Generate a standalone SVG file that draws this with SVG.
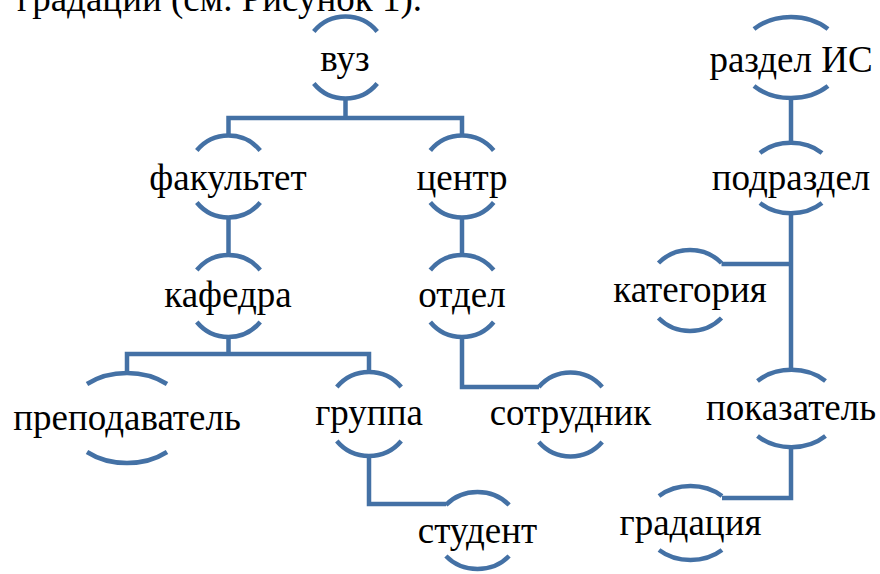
<svg xmlns="http://www.w3.org/2000/svg" width="880" height="574" viewBox="0 0 880 574">
<style>
.arc{fill:none;stroke:#4471a5;stroke-width:4.5}
.con{fill:none;stroke:#4471a5;stroke-width:4.5}
text{font-family:"Liberation Serif","Times New Roman","DejaVu Serif",serif;font-size:37px;fill:#000;text-anchor:middle}
.lead{text-anchor:start}
</style>
<rect width="880" height="574" fill="#fff"/>
<text class="lead" x="17" y="11">градации (см. Рисунок 1).</text>
<g id="connectors">
<path class="con" d="M345.5,98.5 V118 M228.5,135.5 V118 H462 V135.5"/>
<path class="con" d="M228.5,217.5 V255"/>
<path class="con" d="M462,217.5 V255"/>
<path class="con" d="M228.5,337 V354 M127,373 V354 H369 V372"/>
<path class="con" d="M369,456 V504 H446"/>
<path class="con" d="M462,337 V387 H539"/>
<path class="con" d="M791,98 V143"/>
<path class="con" d="M791,213 V370 M791,264 H721.5"/>
<path class="con" d="M791,446 V498 H722"/>
</g>
<g id="n-vuz"><path class="arc" d="M313.8,31.5 A41,41 0 0 1 377.2,31.5 M313.8,83.5 A41,41 0 0 0 377.2,83.5"/><text x="345" y="71">вуз</text></g>
<g id="n-razdel"><path class="arc" d="M754,29 A52,40.5 0 0 1 828,29 M754,86 A52,40.5 0 0 0 828,86"/><text x="791" y="72">раздел ИС</text></g>
<g id="n-fakultet"><path class="arc" d="M196.8,150.5 A41,41 0 0 1 260.2,150.5 M196.8,202.5 A41,41 0 0 0 260.2,202.5"/><text x="228" y="190">факультет</text></g>
<g id="n-centr"><path class="arc" d="M430.3,150.5 A41,41 0 0 1 493.7,150.5 M430.3,202.5 A41,41 0 0 0 493.7,202.5"/><text x="462" y="190">центр</text></g>
<g id="n-podrazdel"><path class="arc" d="M760,153 A44,35 0 0 1 822,153 M760,203 A44,35 0 0 0 822,203"/><text x="791" y="190">подраздел</text></g>
<g id="n-kafedra"><path class="arc" d="M196.8,270 A41,41 0 0 1 260.2,270 M196.8,322 A41,41 0 0 0 260.2,322"/><text x="228" y="307">кафедра</text></g>
<g id="n-otdel"><path class="arc" d="M430.3,270 A41,41 0 0 1 493.7,270 M430.3,322 A41,41 0 0 0 493.7,322"/><text x="462" y="307">отдел</text></g>
<g id="n-kategoriya"><path class="arc" d="M658.5,263 A43,40.5 0 0 1 721.5,263 M658.5,318 A43,40.5 0 0 0 721.5,318"/><text x="690" y="302">категория</text></g>
<g id="n-prepodavatel"><path class="arc" d="M87,384 A61,45 0 0 1 167,384 M87,452 A61,45 0 0 0 167,452"/><text x="127" y="430">преподаватель</text></g>
<g id="n-gruppa"><path class="arc" d="M336.8,387 A42,42 0 0 1 401.2,387 M336.8,441 A42,42 0 0 0 401.2,441"/><text x="369" y="425">группа</text></g>
<g id="n-sotrudnik"><path class="arc" d="M538.8,387 A42,42 0 0 1 602.2,387 M538.8,442 A42,42 0 0 0 602.2,442"/><text x="570.5" y="425">сотрудник</text></g>
<g id="n-pokazatel"><path class="arc" d="M757.5,381 A48,38 0 0 1 825.5,381 M757.5,436 A48,38 0 0 0 825.5,436"/><text x="791" y="420">показатель</text></g>
<g id="n-student"><path class="arc" d="M445.9,505 A42,38 0 0 1 509.1,505 M445.9,556 A42,38 0 0 0 509.1,556"/><text x="477.5" y="543">студент</text></g>
<g id="n-gradaciya"><path class="arc" d="M659,496 A46,37 0 0 1 722,496 M659,550 A46,37 0 0 0 722,550"/><text x="690.5" y="535">градация</text></g>
</svg>
